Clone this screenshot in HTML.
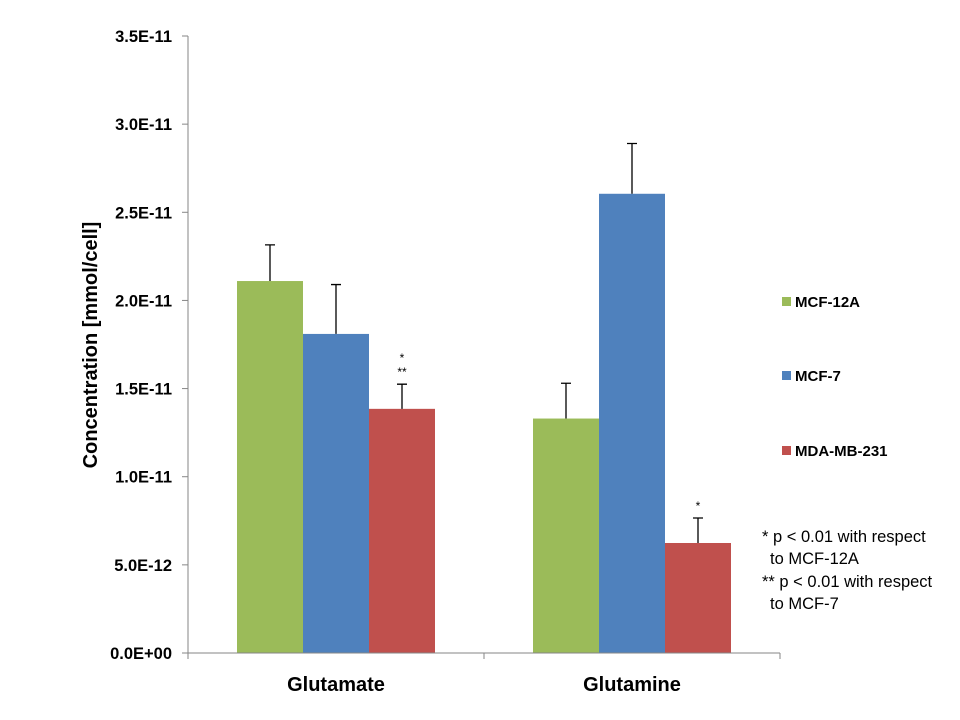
<!DOCTYPE html>
<html><head><meta charset="utf-8"><style>
body{margin:0;background:#fff;font-family:"Liberation Sans",sans-serif}
svg{display:block}
</style></head><body>
<svg width="960" height="720">
<g id="g"></g>
<text transform="translate(97,345) rotate(-90)" text-anchor="middle" font-size="20" font-weight="bold" fill="#000">Concentration [mmol/cell]</text>
<g font-size="15" font-weight="bold">
<rect x="782" y="297" width="9" height="9" fill="#9BBB59"/>
<text x="795" y="307">MCF-12A</text>
<rect x="782" y="371" width="9" height="9" fill="#4F81BD"/>
<text x="795" y="381">MCF-7</text>
<rect x="782" y="446" width="9" height="9" fill="#C0504D"/>
<text x="795" y="456">MDA-MB-231</text>
</g>
<g font-size="16.5" fill="#000">
<text x="762" y="542">* p &lt; 0.01 with respect</text>
<text x="770" y="564">to MCF-12A</text>
<text x="762" y="587">** p &lt; 0.01 with respect</text>
<text x="770" y="609">to MCF-7</text>
</g>
</svg>
<script>
const categories=["Glutamate","Glutamine"];
const seriesNames=["MCF-12A","MCF-7","MDA-MB-231"];
const colors=["#9BBB59","#4F81BD","#C0504D"];
const mcf12a=[2.11e-11,1.33e-11];
const mcf7=[1.81e-11,2.605e-11];
const mda=[1.385e-11,0.624e-11];
const err12a=[0.205e-11,0.2e-11];
const err7=[0.28e-11,0.285e-11];
const errMda=[0.14e-11,0.142e-11];
const marks=[["* ","**"],["*"]];
const ticks=[0,0.5e-11,1e-11,1.5e-11,2e-11,2.5e-11,3e-11,3.5e-11];
const tickLabels=["0.0E+00","5.0E-12","1.0E-11","1.5E-11","2.0E-11","2.5E-11","3.0E-11","3.5E-11"];
const X0=188,X1=780,Y0=653,Y1=36,YMAX=3.5e-11;
const y=v=>Y0-(v/YMAX)*(Y0-Y1);
const cw=(X1-X0)/categories.length;
const bw=66;
const g=document.getElementById('g');
const NS="http://www.w3.org/2000/svg";
function mk(t,a){const e=document.createElementNS(NS,t);for(const k in a)e.setAttribute(k,a[k]);g.appendChild(e);return e;}
ticks.forEach((t,i)=>{
 const l=mk('line',{x1:X0-6,x2:X0,y1:y(t),y2:y(t),stroke:'#868686'});
 
 
 const tx=mk('text',{x:X0-16,y:y(t)+6,'text-anchor':'end','font-size':16.5,'font-weight':'bold'});
 tx.textContent=tickLabels[i];
 
 
});
const vals=[mcf12a,mcf7,mda],errs=[err12a,err7,errMda];
categories.forEach((c,ci)=>{
 const cx=X0+cw*ci+cw/2;
 const tx=mk('text',{x:cx,y:Y0+38,'text-anchor':'middle','font-size':20,'font-weight':'bold'});
 tx.textContent=c;
 
 
 vals.forEach((s,si)=>{
  const bx=cx-1.5*bw+si*bw, v=s[ci], e=errs[si][ci];
  const r=mk('rect',{x:bx,y:y(v),width:bw,height:Y0-y(v),fill:colors[si]});
  
  
  const mx=bx+bw/2;
  const el=mk('path',{d:`M${mx},${y(v)}V${y(v+e)}M${mx-5},${y(v+e)}H${mx+5}`,stroke:'#000','stroke-width':1.3,fill:'none'});
  
  
  if(si===2){
   const m=marks[ci];
   m.forEach((s2,k)=>{
    const t=mk('text',{x:mx,y:y(v+e)-8-(m.length-1-k)*14,'text-anchor':'middle','font-size':12});
    t.textContent=s2.trim();
    
    
   });
  }
 });
});
for(let i=0;i<=categories.length;i++){
 const x=X0+cw*i;
 const l=mk('line',{x1:x,x2:x,y1:Y0,y2:Y0+6,stroke:'#868686'});
 
 
}
const ya=mk('line',{x1:X0,x2:X0,y1:Y1,y2:Y0,stroke:'#868686'});


const xa=mk('line',{x1:X0,x2:X1,y1:Y0,y2:Y0,stroke:'#868686'});


</script>
</body></html>
